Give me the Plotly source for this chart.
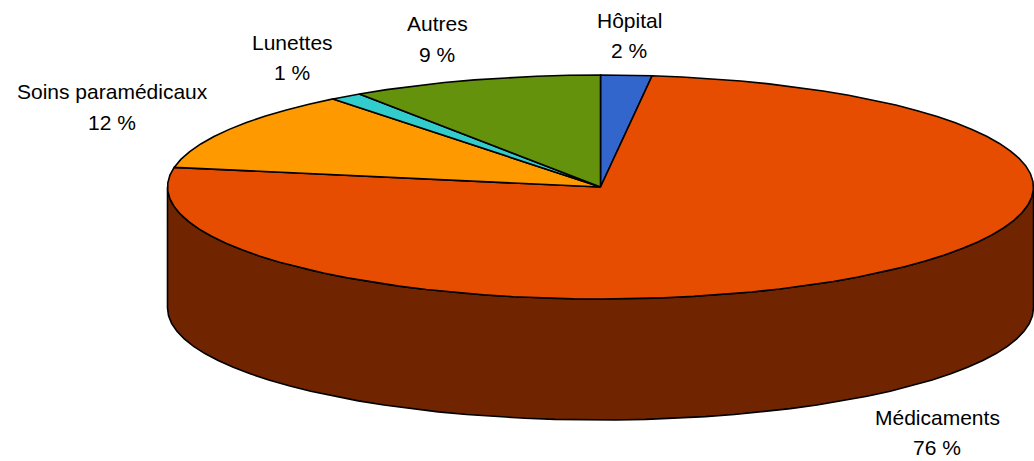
import numpy as np
import plotly.graph_objects as go

categories = ["Hôpital", "Médicaments", "Soins paramédicaux", "Lunettes", "Autres"]
values = [1.9, 75.9, 11.6, 1.2, 9.4]
percent_labels = ["2 %", "76 %", "12 %", "1 %", "9 %"]

colors = ["#3366CC", "#E64D00", "#FF9900", "#33CCCC", "#65920C"]
wall_color = "#702500"
label_centers = [(629, 20, 50), (937, 417, 447), (112, 91, 122), (292, 42, 72), (437, 23, 54)]

CX, CY, RX, RY, DEPTH = 600.5, 187, 433, 112, 121
W, H = 1034, 461


def ellipse(deg_start, deg_end, step=4.0):
    n = max(2, int(abs(deg_end - deg_start) / step) + 1)
    a = np.radians(np.linspace(deg_start, deg_end, n))
    return CX + RX * np.sin(a), CY - RY * np.cos(a)


fig = go.Figure()

# side wall: the visible front half of the rim, 90 to 270 degrees clockwise from the top
x_top, y_top = ellipse(90, 270)
wall_x = np.concatenate([x_top, x_top[::-1], x_top[:1]])
wall_y = np.concatenate([y_top, y_top[::-1] + DEPTH, y_top[:1]])
fig.add_trace(go.Scatter(x=wall_x, y=wall_y, mode="lines", fill="toself", fillcolor=wall_color,
                         line=dict(color="black", width=1.6), hoverinfo="skip", showlegend=False))

total = sum(values)
start = 0.0
for name, val, col in zip(categories, values, colors):
    end = start + val / total * 360
    ex, ey = ellipse(start, end)
    fig.add_trace(go.Scatter(x=np.concatenate([[CX], ex, [CX]]), y=np.concatenate([[CY], ey, [CY]]),
                             mode="lines", fill="toself", fillcolor=col, name=name,
                             line=dict(color="black", width=1.6), hoverinfo="skip", showlegend=False))
    start = end

font = dict(family="Liberation Sans, Arial, sans-serif", size=21, color="black")
annotations = []
for name, pct, (lx, y1, y2) in zip(categories, percent_labels, label_centers):
    annotations.append(dict(x=lx, y=y1, text=name, showarrow=False, font=font, xanchor="center", yanchor="middle"))
    annotations.append(dict(x=lx, y=y2, text=pct, showarrow=False, font=font, xanchor="center", yanchor="middle"))

fig.update_layout(
    width=W, height=H, margin=dict(l=0, r=0, t=0, b=0),
    paper_bgcolor="white", plot_bgcolor="white", showlegend=False,
    xaxis=dict(range=[0, W], visible=False, fixedrange=True),
    yaxis=dict(range=[H, 0], visible=False, fixedrange=True),
    annotations=annotations,
)
fig.write_html("out.html", config={"displayModeBar": False},
               post_script="document.body.style.margin='0';document.documentElement.style.overflow='hidden';")
